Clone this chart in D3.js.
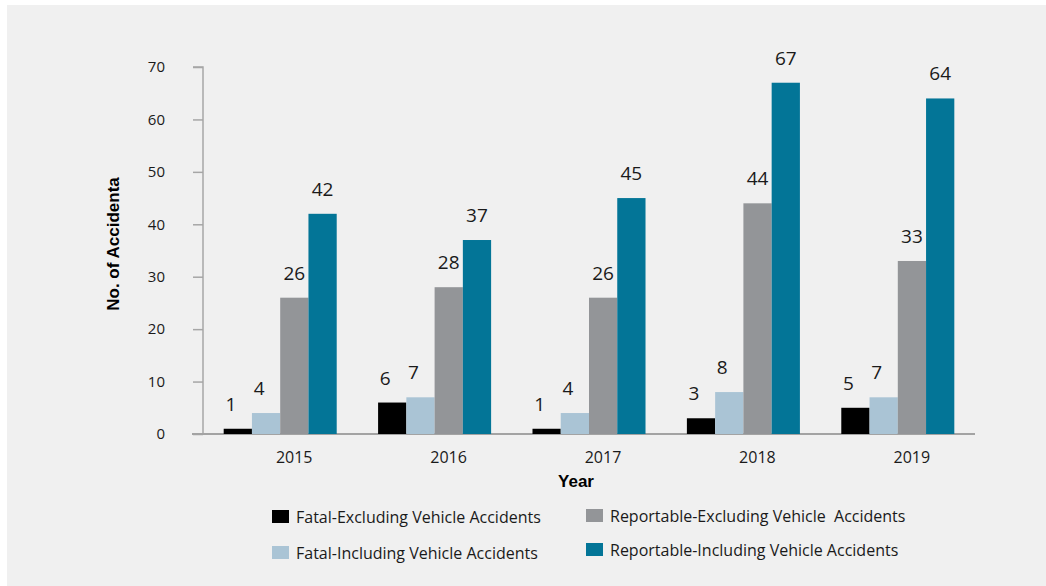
<!DOCTYPE html>
<html>
<head>
<meta charset="utf-8">
<script src="https://cdn.jsdelivr.net/npm/d3@7"></script>
<style>
  body { margin: 0; background: #fff; }
  svg { display: block; }
</style>
</head>
<body>
<div id="chart"></div>
<script>
// data
var years = ['2015', '2016', '2017', '2018', '2019'],
    seriesNames = [
        'Fatal-Excluding Vehicle Accidents',
        'Fatal-Including Vehicle Accidents',
        'Reportable-Excluding Vehicle  Accidents',
        'Reportable-Including Vehicle Accidents'
    ],
    fatalExcluding = [1, 6, 1, 3, 5],
    fatalIncluding = [4, 7, 4, 8, 7],
    reportableExcluding = [26, 28, 26, 44, 33],
    reportableIncluding = [42, 37, 45, 67, 64],
    yTicks = [0, 10, 20, 30, 40, 50, 60, 70]

var seriesValues = [fatalExcluding, fatalIncluding, reportableExcluding, reportableIncluding],
    colors = ['#000000', '#aac4d5', '#939598', '#037597']

var width = 1046, height = 586,
    margins = { top: 67, right: 71, bottom: 152, left: 203 },
    innerWidth = width - margins.left - margins.right,
    innerHeight = height - margins.top - margins.bottom,
    font = "'Open Sans', 'Noto Sans', sans-serif"

var svg = d3.select('#chart').append('svg')
    .attr('width', width)
    .attr('height', height)

svg.append('rect')
    .attr('x', 7).attr('y', 5)
    .attr('width', width - 7).attr('height', height - 5)
    .attr('fill', '#f0f0f0')

var graph = svg.append('g')
    .attr('transform', 'translate(' + margins.left + ',' + margins.top + ')')

var x0 = d3.scaleBand().domain(years).range([0, innerWidth]).paddingInner(0.268).paddingOuter(0.134),
    x1 = d3.scaleBand().domain(d3.range(seriesValues.length)).range([0, x0.bandwidth()]),
    y = d3.scaleLinear().domain([0, 70]).range([innerHeight, 0])

// y axis
var yAxis = graph.append('g')
    .call(d3.axisLeft(y).tickValues(yTicks).tickSize(10).tickPadding(28))
yAxis.select('.domain').attr('stroke', '#a6a6a6').attr('stroke-width', 1.5).attr('d', 'M0,' + innerHeight + 'V0H-10')
yAxis.selectAll('.tick line').attr('stroke', '#a6a6a6').attr('stroke-width', 1.5)
yAxis.selectAll('.tick text')
    .attr('fill', '#1a1a1a')
    .style('font-family', font)
    .style('font-size', '15px')

// x axis
var xAxis = graph.append('g')
    .attr('transform', 'translate(0,' + innerHeight + ')')
    .call(d3.axisBottom(x0).tickSize(0).tickPadding(18))
xAxis.select('.domain').attr('stroke', '#a3a3a3').attr('stroke-width', 2).attr('d', 'M-11,0H' + innerWidth)
xAxis.selectAll('.tick text')
    .attr('fill', '#1a1a1a')
    .attr('dx', 14)
    .style('font-family', font)
    .style('font-size', '16px')

// bars
var groups = graph.selectAll('.year')
    .data(years)
    .enter().append('g')
    .attr('class', 'year')
    .attr('transform', d => 'translate(' + x0(d) + ',0)')

groups.selectAll('rect')
    .data((d, i) => seriesValues.map((s, k) => ({ k: k, value: s[i] })))
    .enter().append('rect')
    .attr('x', d => x1(d.k))
    .attr('width', x1.bandwidth())
    .attr('y', d => y(d.value))
    .attr('height', d => innerHeight - y(d.value))
    .attr('fill', d => colors[d.k])

groups.selectAll('.label')
    .data((d, i) => seriesValues.map((s, k) => ({ k: k, value: s[i] })))
    .enter().append('text')
    .attr('class', 'label')
    .attr('x', d => x1(d.k) + x1.bandwidth() / 2 - (d.value < 10 ? 7 : 0))
    .attr('y', d => y(d.value) - 18)
    .attr('text-anchor', 'middle')
    .attr('fill', '#1a1a1a')
    .style('font-family', font)
    .style('font-size', '19px')
    .text(d => d.value)

// axis titles
svg.append('text')
    .attr('transform', 'translate(119,244) rotate(-90)')
    .attr('text-anchor', 'middle')
    .style('font-family', "'Liberation Sans', Arial, sans-serif")
    .style('font-weight', 'bold')
    .style('font-size', '17px')
    .text('No. of Accidenta')

svg.append('text')
    .attr('x', 576).attr('y', 487)
    .attr('text-anchor', 'middle')
    .style('font-family', "'Liberation Sans', Arial, sans-serif")
    .style('font-weight', 'bold')
    .style('font-size', '17px')
    .text('Year')

// legend
var legendPos = [[272, 510], [272, 546], [586, 509], [586, 543]]
var legend = svg.selectAll('.legend')
    .data(seriesNames)
    .enter().append('g')
    .attr('class', 'legend')
    .attr('transform', (d, i) => 'translate(' + legendPos[i][0] + ',' + legendPos[i][1] + ')')

legend.append('rect')
    .attr('width', 17).attr('height', 13)
    .attr('fill', (d, i) => colors[i])

legend.append('text')
    .attr('x', 24).attr('y', 13)
    .attr('fill', '#1a1a1a')
    .style('font-family', "'Liberation Sans Narrow', 'Open Sans', sans-serif")
    .style('font-size', '16px')
    .style('white-space', 'pre')
    .text(d => d)
</script>
</body>
</html>
